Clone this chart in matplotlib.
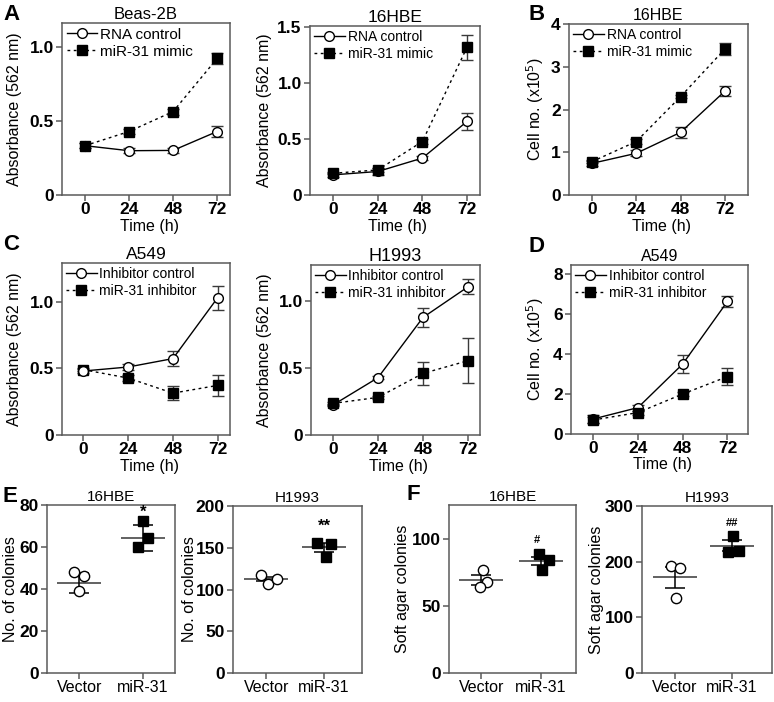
import numpy as np
import matplotlib
matplotlib.use("Agg")
import matplotlib.pyplot as plt

plt.rcParams['font.family'] = ['Liberation Sans', 'DejaVu Sans']

W, H = 774, 702
SPINE = "#5a5a5a"; ERR = "#3a3a3a"; MEAN_C = "#555555"

# ---- time-course data (mean, error) ----
hours = [0, 24, 48, 72]
beas_ctrl = [0.334, 0.300, 0.302, 0.430]; beas_ctrl_err = [0.015, 0.015, 0.015, 0.040]
beas_mimic = [0.334, 0.430, 0.565, 0.925]; beas_mimic_err = [0.015, 0.020, 0.020, 0.040]
hbe_ctrl = [0.180, 0.210, 0.330, 0.657]; hbe_ctrl_err = [0.015, 0.030, 0.015, 0.077]
hbe_mimic = [0.194, 0.224, 0.478, 1.320]; hbe_mimic_err = [0.010, 0.020, 0.020, 0.110]
hbe_cell_ctrl = [0.74, 0.975, 1.466, 2.43]; hbe_cell_ctrl_err = [0.05, 0.07, 0.13, 0.11]
hbe_cell_mimic = [0.78, 1.25, 2.30, 3.415]; hbe_cell_mimic_err = [0.03, 0.06, 0.04, 0.14]
a549_ctrl = [0.480, 0.510, 0.573, 1.030]; a549_ctrl_err = [0.015, 0.020, 0.055, 0.090]
a549_inh = [0.490, 0.427, 0.314, 0.372]; a549_inh_err = [0.010, 0.020, 0.050, 0.077]
h1993_ctrl = [0.224, 0.428, 0.878, 1.107]; h1993_ctrl_err = [0.010, 0.010, 0.072, 0.057]
h1993_inh = [0.236, 0.281, 0.460, 0.555]; h1993_inh_err = [0.010, 0.010, 0.087, 0.170]
a549_cell_ctrl = [0.75, 1.32, 3.50, 6.63]; a549_cell_ctrl_err = [0.20, 0.15, 0.43, 0.29]
a549_cell_inh = [0.70, 1.07, 2.00, 2.87]; a549_cell_inh_err = [0.15, 0.10, 0.08, 0.44]

# ---- colony data (3 replicates, mean, error) ----
groups = ["Vector", "miR-31"]
e_hbe_vec = [48.3, 46.0, 39.2]; e_hbe_vec_stat = (43.0, 4.8)
e_hbe_mir = [72.2, 64.1, 60.0]; e_hbe_mir_stat = (64.1, 6.2)
e_h1993_vec = [117.0, 106.5, 113.0]; e_h1993_vec_stat = (112.5, 2.6)
e_h1993_mir = [155.9, 154.3, 139.0]; e_h1993_mir_stat = (150.3, 4.8)
f_hbe_vec = [76.3, 67.9, 63.9]; f_hbe_vec_stat = (69.4, 3.6)
f_hbe_mir = [88.6, 84.2, 76.8]; f_hbe_mir_stat = (83.2, 2.9)
f_h1993_vec = [193.0, 188.0, 135.0]; f_h1993_vec_stat = (172.0, 19.0)
f_h1993_mir = [247.0, 217.0, 220.0]; f_h1993_mir_stat = (228.6, 10.0)

fig = plt.figure(figsize=(W/100, H/100), dpi=100)

def px_axes(l, t, r, b):
    return fig.add_axes([l/W, 1-b/H, (r-l)/W, (b-t)/H])

def ftext(x, y, s, **kw):
    fig.text(x/W, 1-y/H, s, **kw)

def frame(ax):
    for s in ax.spines.values():
        s.set_color(SPINE); s.set_linewidth(1.1)
    ax.tick_params(color=SPINE, width=1.1, length=4.5, pad=1.5)
    ax.tick_params(axis='x', length=4, pad=1)

def time_panel(rect, ttl, ttl_size, ctrl, ctrl_err, trt, trt_err, labels, leg_size, yticks, ylabels, ylim, xlim,
               ylab, ylab_x, ctrl_top=False):
    ax = px_axes(*rect)
    ax.errorbar(hours, trt, yerr=trt_err, fmt='none', ecolor=ERR, elinewidth=1, capsize=4, capthick=1, zorder=2)
    ax.errorbar(hours, ctrl, yerr=ctrl_err, fmt='none', ecolor=ERR, elinewidth=1, capsize=4, capthick=1, zorder=2)
    ax.plot(hours, ctrl, '-', color='k', lw=1, marker='o', ms=7, mfc='white', mec='k', mew=1,
            label=labels[0], zorder=5 if ctrl_top else 3)
    ax.plot(hours, trt, ls=(0, (2, 2.5)), color='k', lw=1, marker='s', ms=6.6, mfc='k', mec='k',
            label=labels[1], zorder=4)
    ax.set_xlim(*xlim); ax.set_ylim(*ylim)
    ax.set_xticks(hours); ax.set_xticklabels([str(h) for h in hours], fontweight='bold', fontsize=12.5)
    ax.set_yticks(yticks); ax.set_yticklabels(ylabels, fontweight='bold', fontsize=12.5)
    frame(ax)
    ax.legend(loc='upper left', frameon=False, fontsize=leg_size, handlelength=22/leg_size, handletextpad=0.2,
              labelspacing=0.2, borderaxespad=0.2, borderpad=0.1)
    ax.set_title(ttl, fontsize=ttl_size, pad=3)
    l, t, r, b = rect
    ftext(ylab_x, (t+b)/2, ylab, rotation=90, ha='center', va='center', fontsize=11.5)
    ftext((l+r)/2+3, b+31, "Time (h)", ha='center', va='center', fontsize=11.5)
    return ax

def colony_panel(rect, ttl, xlim, ylim, yticks, vec, vec_jit, vec_stat, mir, mir_jit, mir_stat,
                 ylab, ylab_x, mark, mark_y, mark_size, mark_dx=0.0):
    ax = px_axes(*rect)
    l, t, r, b = rect
    ppu = (r-l)/(xlim[1]-xlim[0])
    hw = 22/ppu
    for x, vals, jit, (m, e), filled in [(0, vec, vec_jit, vec_stat, False), (1, mir, mir_jit, mir_stat, True)]:
        ax.hlines(m, x-hw, x+hw, color=MEAN_C, lw=1.3, zorder=2)
        ax.errorbar([x], [m], yerr=[e], fmt='none', ecolor='k', elinewidth=1.1, capsize=7, capthick=1.1, zorder=3)
        if filled:
            ax.plot(np.array(jit)+x, vals, 's', ms=7.2, mfc='k', mec='k', zorder=4)
        else:
            ax.plot(np.array(jit)+x, vals, 'o', ms=7.4, mfc='white', mec='k', mew=1, zorder=4)
    ax.set_xlim(*xlim); ax.set_ylim(*ylim)
    ax.set_xticks([0, 1]); ax.set_xticklabels(groups, fontsize=11.5)
    ax.set_yticks(yticks); ax.set_yticklabels([str(v) for v in yticks], fontweight='bold', fontsize=12.5)
    frame(ax)
    ax.set_title(ttl, fontsize=11, pad=3)
    ax.text(1+mark_dx, mark_y, mark, ha='center', va='center', fontsize=mark_size, fontweight='bold')
    ftext(ylab_x, (t+b)/2, ylab, rotation=90, ha='center', va='center', fontsize=11.5)
    return ax

absl = "Absorbance (562 nm)"
celll = "Cell no. (x10$^5$)"
mim_lab = ["RNA control", "miR-31 mimic"]
inh_lab = ["Inhibitor control", "miR-31 inhibitor"]

time_panel((62, 23, 230, 195), "Beas-2B", 12, beas_ctrl, beas_ctrl_err, beas_mimic, beas_mimic_err, mim_lab, 11,
           [0, 0.5, 1.0], ["0", "0.5", "1.0"], (0, 1.165), (-12.5, 79), absl, 15)
time_panel((310, 26, 480, 195), "16HBE", 12.5, hbe_ctrl, hbe_ctrl_err, hbe_mimic, hbe_mimic_err, mim_lab, 10,
           [0, 0.5, 1.0, 1.5], ["0", "0.5", "1.0", "1.5"], (0, 1.51), (-12.5, 79), absl, 265)
time_panel((569, 24, 748, 195), "16HBE", 11.5, hbe_cell_ctrl, hbe_cell_ctrl_err, hbe_cell_mimic, hbe_cell_mimic_err,
           mim_lab, 10, [0, 1, 2, 3, 4], ["0", "1", "2", "3", "4"], (0, 4.0), (-12.4, 84.5), celll, 535)
time_panel((62, 263, 230, 435), "A549", 12.5, a549_ctrl, a549_ctrl_err, a549_inh, a549_inh_err, inh_lab, 10,
           [0, 0.5, 1.0], ["0", "0.5", "1.0"], (0, 1.29), (-11.5, 78.6), absl, 15, ctrl_top=True)
time_panel((311, 265, 480, 435), "H1993", 13, h1993_ctrl, h1993_ctrl_err, h1993_inh, h1993_inh_err, inh_lab, 10,
           [0, 0.5, 1.0], ["0", "0.5", "1.0"], (0, 1.27), (-11.7, 78.4), absl, 265)
time_panel((571, 265, 748, 434), "A549", 11.5, a549_cell_ctrl, a549_cell_ctrl_err, a549_cell_inh, a549_cell_inh_err,
           inh_lab, 10, [0, 2, 4, 6, 8], ["0", "2", "4", "6", "8"], (0, 8.45), (-11.9, 83), celll, 535)

colony_panel((47, 505, 175, 673), "16HBE", (-0.51, 1.51), (0, 80), [0, 20, 40, 60, 80],
             e_hbe_vec, [-0.08, 0.08, 0.0], e_hbe_vec_stat, e_hbe_mir, [0.0, 0.08, -0.08], e_hbe_mir_stat,
             "No. of colonies", 11, "*", 76.5, 12)
colony_panel((233, 506, 362, 673), "H1993", (-0.58, 1.66), (0, 200), [0, 50, 100, 150, 200],
             e_h1993_vec, [-0.09, 0.03, 0.19], e_h1993_vec_stat, e_h1993_mir, [-0.12, 0.12, 0.03], e_h1993_mir_stat,
             "No. of colonies", 190, "**", 176, 12)
colony_panel((449, 505, 576, 673), "16HBE", (-0.55, 1.6), (0, 125), [0, 50, 100],
             f_hbe_vec, [0.03, 0.10, -0.03], f_hbe_vec_stat, f_hbe_mir, [-0.02, 0.14, 0.03], f_hbe_mir_stat,
             "Soft agar colonies", 403, "#", 99, 8, mark_dx=-0.06)
colony_panel((642, 506, 772, 673), "H1993", (-0.58, 1.71), (0, 300), [0, 100, 200, 300],
             f_h1993_vec, [-0.07, 0.09, 0.02], f_h1993_vec_stat, f_h1993_mir, [0.02, -0.07, 0.13], f_h1993_mir_stat,
             "Soft agar colonies", 596, "##", 269, 8)

for letter, x, y in [("A", 3, 14), ("B", 528, 14), ("C", 3, 244), ("D", 529, 247), ("E", 2, 497), ("F", 407, 495)]:
    ftext(x, y, letter, ha='left', va='center', fontsize=16, fontweight='bold')

fig.savefig("out.png", dpi=100)
